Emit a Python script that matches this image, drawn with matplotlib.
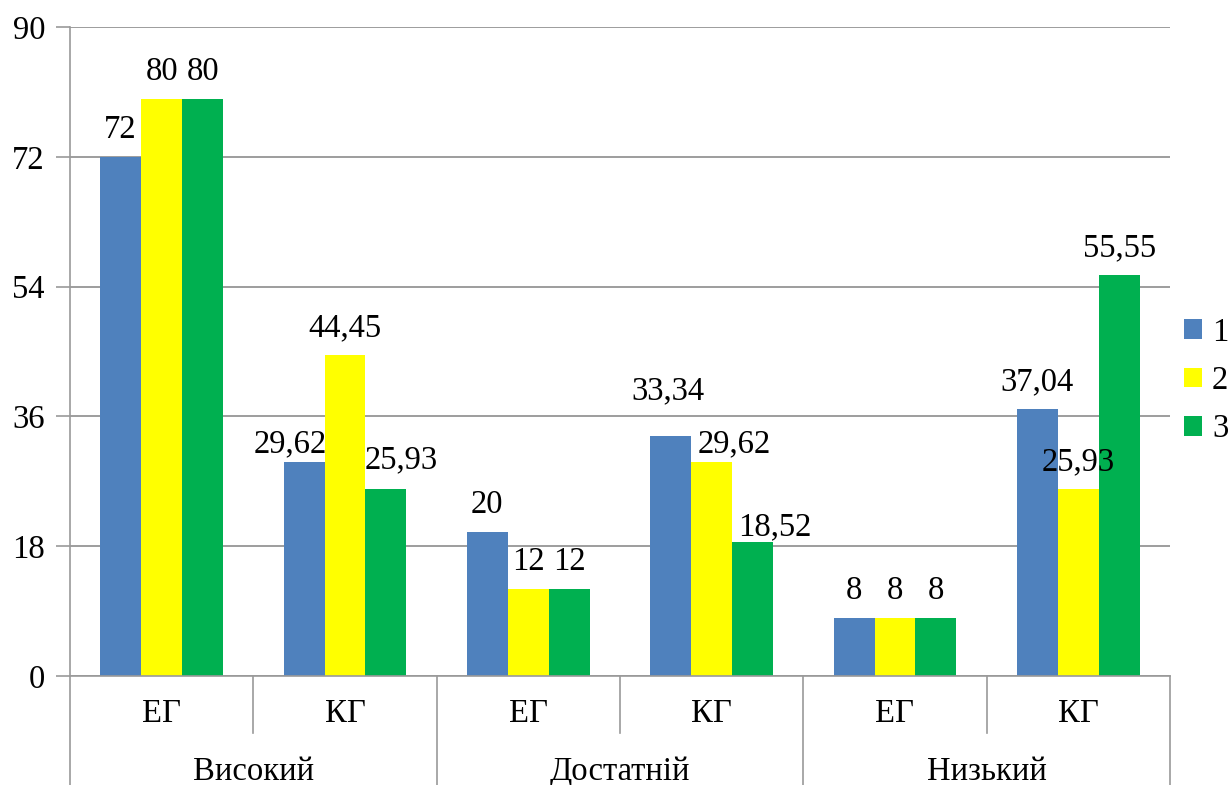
import matplotlib
matplotlib.use("Agg")
import matplotlib.pyplot as plt
import matplotlib.transforms as mtransforms
import numpy as np

categories = ["ЕГ", "КГ", "ЕГ", "КГ", "ЕГ", "КГ"]
groups = ["Високий", "Достатній", "Низький"]
series_names = ["1", "2", "3"]
s1 = [72, 29.62, 20, 33.34, 8, 37.04]
s2 = [80, 44.45, 12, 29.62, 8, 25.93]
s3 = [80, 25.93, 12, 18.52, 8, 55.55]
labels1 = ["72", "29,62", "20", "33,34", "8", "37,04"]
labels2 = ["80", "44,45", "12", "29,62", "8", "25,93"]
labels3 = ["80", "25,93", "12", "18,52", "8", "55,55"]
yticks = [0, 18, 36, 54, 72, 90]
colors = ["#4F81BD", "#FFFF00", "#00B050"]

plt.rcParams['font.family'] = ['Liberation Serif', 'DejaVu Serif']
FS = 23.5
LINE = "#9a9a9a"

# manual label nudges (series index, category index) -> (dx px, baseline gap px)
DEFAULT_GAP = 19
nudges = {
    (0, 1): (-14, 10),
    (2, 1): (15, 21),
    (0, 3): (-3, 36),
    (1, 3): (23, 10),
    (2, 3): (22, 7),
}

fig = plt.figure(figsize=(12.31, 7.85), dpi=100)
ax = fig.add_axes([70/1231, 1-676/785, 1100/1231, 649/785])

x = np.arange(len(categories))
w = 0.2236
for i, (vals, labs) in enumerate(zip([s1, s2, s3], [labels1, labels2, labels3])):
    bars = ax.bar(x + (i - 1) * w, vals, w, color=colors[i], label=series_names[i], zorder=3)
    for j, (b, lab) in enumerate(zip(bars, labs)):
        dx, gap = nudges.get((i, j), (0, DEFAULT_GAP))
        ax.annotate(lab, (b.get_x() + b.get_width() / 2, b.get_height()),
                    xytext=(dx, gap), textcoords="offset pixels", ha="center", va="baseline",
                    fontsize=FS, color="#000000", zorder=4)

ax.set_xlim(-0.5, len(categories) - 0.5)
ax.set_ylim(0, 90)
ax.set_yticks(yticks)
ax.set_yticklabels([str(t) for t in yticks], fontsize=FS)
ax.yaxis.grid(True, color="#8c8c8c", linewidth=1.2, zorder=0)
ax.tick_params(axis="y", length=10, color=LINE, width=1.2, pad=8)
ax.set_xticks([])
for s in ["top", "right", "bottom"]:
    ax.spines[s].set_visible(False)
ax.spines["left"].set_color(LINE)
ax.spines["left"].set_linewidth(1.2)

trans = mtransforms.blended_transform_factory(ax.transData, ax.transAxes)
# baseline
ax.plot([-0.5, len(categories) - 0.5], [0, 0], transform=trans, color=LINE, lw=1.2, clip_on=False, zorder=5)
# separators
bottom_full = -0.17
inner = -0.088
for b in np.arange(-0.5, len(categories), 1.0):
    k = int(round(b + 0.5))
    y0 = bottom_full if k % 2 == 0 else inner
    ax.plot([b, b], [0, y0], transform=trans, color=LINE, lw=1.2, clip_on=False)
# category labels
for xi, c in zip(x, categories):
    ax.text(xi, -0.058, c, transform=trans, ha="center", va="center", fontsize=FS)
for gi, g in enumerate(groups):
    ax.text(2 * gi + 0.5, -0.147, g, transform=trans, ha="center", va="center", fontsize=FS)

leg = ax.legend(loc="center left", bbox_to_anchor=(1.013, 0.455), frameon=False,
                fontsize=FS, handlelength=0.55, handleheight=0.55, handletextpad=0.3,
                labelspacing=0.55, borderaxespad=0, borderpad=0)

fig.savefig("out.png", dpi=100)
